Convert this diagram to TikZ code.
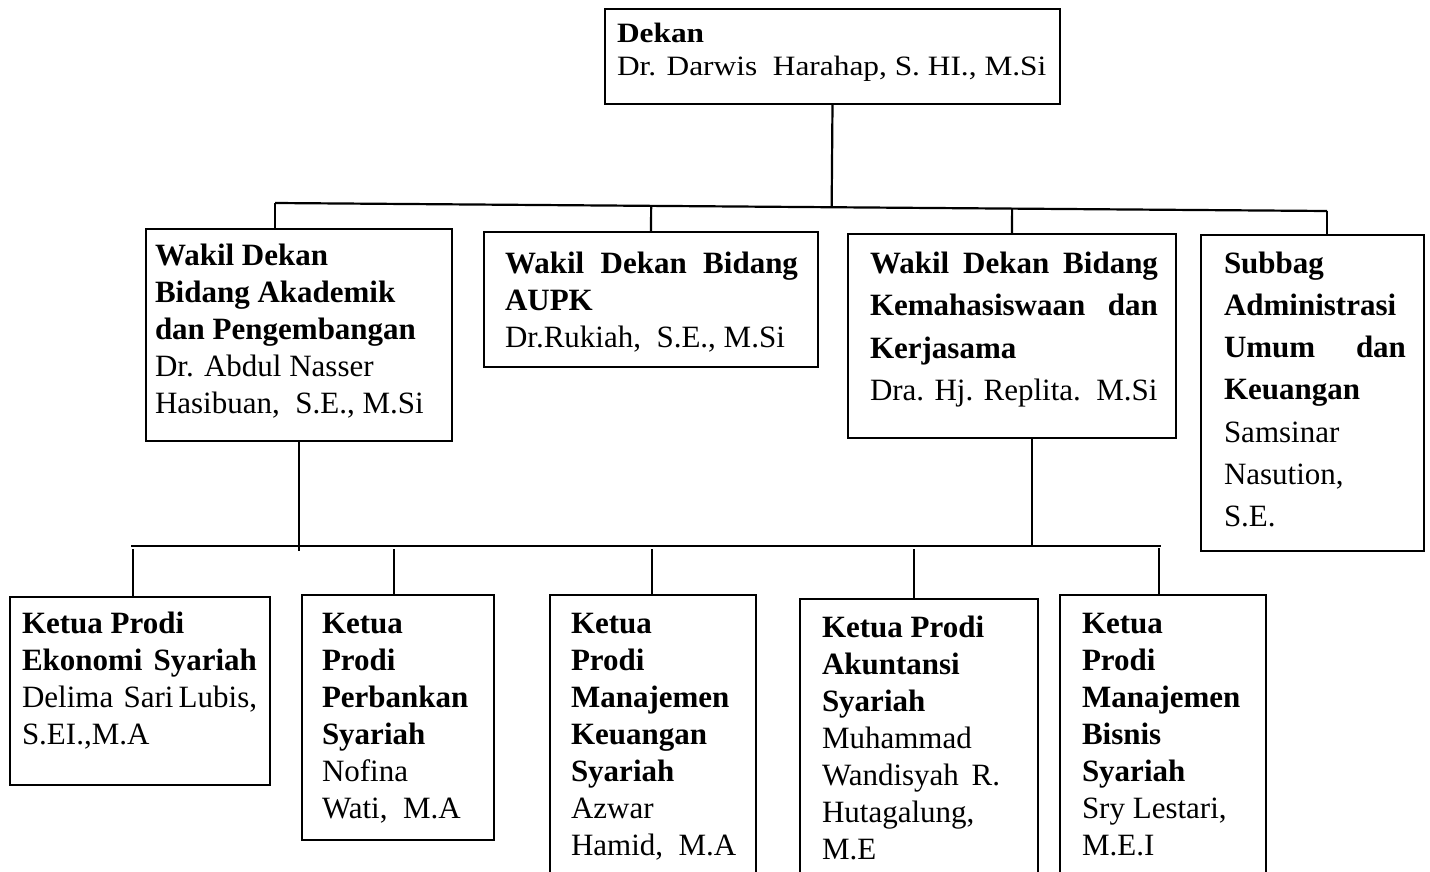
\documentclass[tikz,border=0pt]{standalone}
\usepackage{fontspec}
\setmainfont{Liberation Serif}
\newfontfamily\dekanfont[FakeStretch=1.12]{Liberation Serif}
\usetikzlibrary{calc}
\newcommand\orgtext[4][31]{\parbox[t]{#2pt}{\fontsize{#1}{#3}\selectfont\raggedright #4}}
\tikzset{
  unitbox/.style={draw, line width=2pt, inner sep=0pt, outer sep=0pt, anchor=north west},
  txt/.style={anchor=base west, inner sep=0pt, outer sep=0pt},
  conn/.style={line width=2.2pt},
}
\begin{document}
\begin{tikzpicture}[x=1pt,y=-1pt]
\useasboundingbox (0,0) rectangle (1430,872);
\clip (0,0) rectangle (1430,872);
% boxes
\node[unitbox, minimum width=455pt, minimum height=95pt] (dekan) at (605,9) {};
\node[unitbox, minimum width=306pt, minimum height=212pt] (wa) at (146,229) {};
\node[unitbox, minimum width=334pt, minimum height=135pt] (aupk) at (484,232) {};
\node[unitbox, minimum width=328pt, minimum height=204pt] (kem) at (848,234) {};
\node[unitbox, minimum width=223pt, minimum height=316pt] (sub) at (1201,235) {};
\node[unitbox, minimum width=260pt, minimum height=188pt] (eko) at (10,597) {};
\node[unitbox, minimum width=192pt, minimum height=245pt] (pb) at (302,595) {};
\node[unitbox, minimum width=206pt, minimum height=300pt] (mk) at (550,595) {};
\node[unitbox, minimum width=238pt, minimum height=300pt] (ak) at (800,599) {};
\node[unitbox, minimum width=206pt, minimum height=300pt] (mb) at (1060,595) {};
% texts
\node[txt] (tdekan) at (617,43) {\orgtext[28]{440}{33}{\dekanfont\textbf{Dekan}\\ Dr. Darwis\ \ Harahap, S. HI., M.Si}};
\node[txt] (twa) at (155,265) {\orgtext{295}{37}{\textbf{Wakil Dekan}\\ \textbf{Bidang Akademik}\\ \textbf{dan Pengembangan}\\ Dr. Abdul Nasser\\ Hasibuan,\ \ S.E., M.Si}};
\node[txt] (taupk) at (505,273) {\orgtext{310}{37}{\makebox[293pt][s]{\textbf{Wakil Dekan Bidang}}\\ \textbf{AUPK}\\ Dr.Rukiah,\ \ S.E., M.Si}};
\node[txt] (tkem) at (870,273) {\orgtext{300}{42.5}{\makebox[288pt][s]{\textbf{Wakil Dekan Bidang}}\\ \makebox[288pt][s]{\textbf{Kemahasiswaan dan}}\\ \textbf{Kerjasama}\\ Dra. Hj. Replita.\ \ M.Si}};
\node[txt] (tsub) at (1224,273) {\orgtext{195}{42.3}{\textbf{Subbag}\\ \textbf{Administrasi}\\ \makebox[182pt][s]{\textbf{Umum dan}}\\ \textbf{Keuangan}\\ Samsinar\\ Nasution,\\ S.E.}};
\node[txt] (teko) at (22,633) {\orgtext{245}{37}{\textbf{Ketua Prodi}\\ \makebox[235pt][s]{\textbf{Ekonomi Syariah}}\\ \makebox[235pt][s]{Delima\ \ Sari Lubis,}\\ S.EI.,M.A}};
\node[txt] (tpb) at (322,633) {\orgtext{170}{37}{\textbf{Ketua}\\ \textbf{Prodi}\\ \textbf{Perbankan}\\ \textbf{Syariah}\\ Nofina\\ Wati,\ \ M.A}};
\node[txt] (tmk) at (571,633) {\orgtext{180}{37}{\textbf{Ketua}\\ \textbf{Prodi}\\ \textbf{Manajemen}\\ \textbf{Keuangan}\\ \textbf{Syariah}\\ Azwar\\ Hamid,\ \ M.A}};
\node[txt] (tak) at (822,637) {\orgtext{210}{37}{\textbf{Ketua Prodi}\\ \textbf{Akuntansi}\\ \textbf{Syariah}\\ Muhammad\\ \makebox[178pt][s]{Wandisyah R.}\\ Hutagalung,\\ M.E}};
\node[txt] (tmb) at (1082,633) {\orgtext{180}{37}{\textbf{Ketua}\\ \textbf{Prodi}\\ \textbf{Manajemen}\\ \textbf{Bisnis}\\ \textbf{Syariah}\\ Sry Lestari,\\ M.E.I}};
% top connectors
\coordinate (tl) at (275,203);
\coordinate (tr) at (1327,211);
\draw[conn] (dekan.south) -- ($(tl)!(dekan.south)!(tr)$);
\draw[conn] (tl) -- (tr);
\draw[conn] (tl) -- (tl |- wa.north);
\draw[conn] ($(tl)!(aupk.north)!(tr)$) -- (aupk.north);
\draw[conn] ($(tl)!(kem.north)!(tr)$) -- (kem.north);
\draw[conn] (tr) -- (tr |- sub.north);
% bottom connectors
\coordinate (bl) at (131,546);
\coordinate (br) at (1161,546);
\coordinate (wajoin) at (298,551);
\coordinate (kemjoin) at (1032,546);
\draw[conn] (bl) -- (br);
\draw[conn] (wa.south) -- (wa.south |- wajoin);
\draw[conn] (kemjoin |- kem.south) -- (kemjoin);
\coordinate (d1) at (133,549);
\coordinate (d2) at (394,549);
\coordinate (d3) at (652,549);
\coordinate (d4) at (914,549);
\coordinate (d5) at (1159,548);
\draw[conn] (d1) -- (d1 |- eko.north);
\draw[conn] (d2) -- (d2 |- pb.north);
\draw[conn] (d3) -- (d3 |- mk.north);
\draw[conn] (d4) -- (d4 |- ak.north);
\draw[conn] (d5) -- (d5 |- mb.north);
\end{tikzpicture}
\end{document}
